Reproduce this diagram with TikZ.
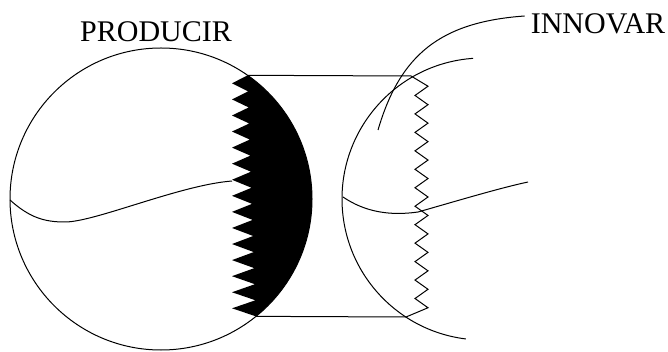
\documentclass[tikz,border=0pt]{standalone}
\usepackage{fontspec}
\setmainfont{Liberation Serif}
\newfontfamily\lblfont{Liberation Serif}
\usepackage{tikz}
\usetikzlibrary{calc}

\tikzset{
    lbl/.style={inner sep=0pt, font=\lblfont\fontsize{30}{32}\selectfont},
    thinline/.style={line width=1pt},
}

\begin{document}
\begin{tikzpicture}[x=1pt,y=-1pt]
    \useasboundingbox (0,0) rectangle (668,352);

    % centres and corner points
    \coordinate (c1) at (161,199);
    \coordinate (c2) at (483,199);
    \coordinate (A) at ($(c1)+(-55:151)$);
    \coordinate (B) at ($(c1)+(51:151)$);
    \coordinate (C) at (411,76);
    \coordinate (D) at (406,317);

    \node[lbl] (prod) at (156,32) {PRODUCIR};
    \node[lbl] (innov) at (598,24) {INNOVAR};

    % black part with teeth
    \fill (A)
        \foreach \i in {1,...,15} {
            -- (232,{75.3+(\i-0.5)*16.07}) -- ({247.6+8.4*\i/15},{75.3+\i*16.07})
        }
        arc[start angle=51, end angle=-55, radius=151] -- cycle;

    \begin{scope}[thinline]
        \draw (c1) circle[radius=151];
        \draw (10,200) .. controls (30,218) and (45,222) .. (65,222)
            .. controls (95,222) and (180,185) .. (232,181);

        \draw (A) -- (C);
        \draw (B) -- (D);

        % right side
        \draw ($(c2)+(266:141)$) arc[start angle=266, end angle=97, radius=141];
        \draw (C)
            \foreach \i in {1,...,12} {
                -- (428,{77+(\i-0.5)*18.46}) -- (415,{77+\i*18.46})
            }
            -- (428,{77+12.5*18.46}) -- (D);
        \draw (343,197) .. controls (365,212) and (390,216) .. (418,212)
            .. controls (460,200) and (500,188) .. (528,182);

        \draw ($(innov.west)+(-6,-8)$) .. controls (440,22) and (400,55) .. (378,130);
    \end{scope}
\end{tikzpicture}
\end{document}
